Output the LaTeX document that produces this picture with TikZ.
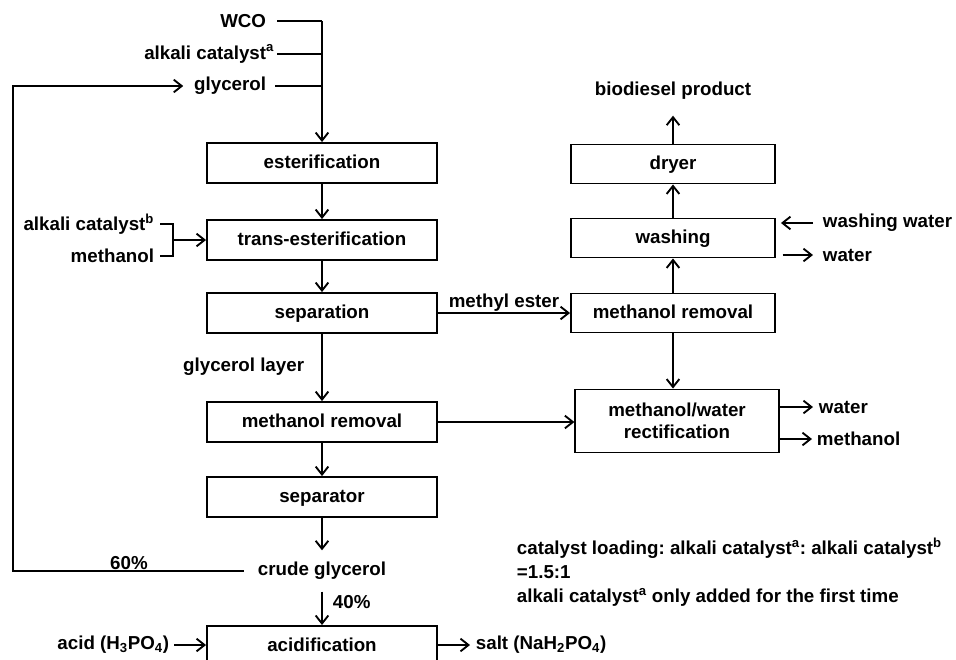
\documentclass[tikz,border=0pt]{standalone}
\usepackage{fontspec}
\setmainfont{Liberation Sans}
\usepackage{tikz}
\usetikzlibrary{arrows.meta}
\frenchspacing

\begin{document}
\begin{tikzpicture}[x=0.3mm, y=-0.3mm, line width=1.6pt,
		every node/.style={inner sep=0pt, font=\fontsize{16}{19}\selectfont\bfseries},
		unit/.style={draw, line width=1.6pt, minimum width=69mm, minimum height=12mm, text height=13pt, text depth=3pt},
		unitR/.style={draw, line width=1.6pt, minimum width=61.2mm, minimum height=11.7mm, text height=13pt, text depth=3pt},
		flow/.style={-{Straight Barb[length=2.4mm,width=3.8mm]}}]
		
		\useasboundingbox (0,0) rectangle (956,659);
		
		% feeds on top
		\node [anchor=east] (wco) at (267,21) {WCO};
		\node [anchor=east] (cata) at (275,54) {alkali catalyst\textsuperscript{a}};
		\node [anchor=east] (glyc) at (267,86) {glycerol};
		\coordinate (feed) at (322,21);
		
		% left column
		\node [unit] (ester) at (322,163) {esterification};
		\node [unit] (trans) at (322,240) {trans-esterification};
		\node [unit] (sep) at (322,313) {separation};
		\node [unit] (mrem) at (322,422) {methanol removal};
		\node [unit] (sepr) at (322,497) {separator};
		\node [inner xsep=3.9mm, inner ysep=3.3mm] (crude) at (322,571) {crude glycerol};
		\node [unit, anchor=north] (acidf) at (322,625) {acidification};
		
		% right column
		\node (bio) at (673,91) {biodiesel product};
		\node [unitR] (dryer) at (673,164) {dryer};
		\node [unitR] (wash) at (673,238) {washing};
		\node [unitR] (mremR) at (673,313) {methanol removal};
		\node [draw, line width=1.6pt, minimum width=61mm, minimum height=18.9mm, align=center] (rect) at (677,421) {methanol/water\\rectification};
		
		% feed lines
		\draw ([xshift=3mm]wco.east) -- (feed);
		\draw ([xshift=0.6mm]cata.east) -- (cata.east -| feed);
		\draw ([xshift=2.4mm]glyc.east) -- (glyc.east -| feed);
		\draw [flow] (feed) -- (ester.north);
		
		% catalyst b and methanol
		\node [anchor=east] (catb) at (155,224) {alkali catalyst\textsuperscript{b}};
		\node [anchor=east] (meoh) at (155,256) {methanol};
		\coordinate (join) at (173,240);
		\draw ([xshift=1.5mm]catb.east) -- (catb.east -| join) -- (meoh.east -| join) -- ([xshift=1.5mm]meoh.east);
		\draw [flow] (join) -- (trans.west);
		
		% main line
		\draw [flow] (ester) -- (trans);
		\draw [flow] (trans) -- (sep);
		\draw [flow] (sep) -- (mrem);
		\node [anchor=east] (glayer) at (305,367) {glycerol layer};
		\draw [flow] (mrem) -- (sepr);
		\draw [flow] (sepr) -- (crude);
		\draw [flow] (crude) -- (acidf);
		\node [anchor=west] (forty) at (332,602) {40\%};
		
		% recycle 60%
		\coordinate (loopL) at (13,571);
		\draw [flow] (crude.west) -- (loopL) -- (loopL |- glyc.west) -- ([xshift=-3mm]glyc.west);
		\node [anchor=base] (sixty) at (129,569) {60\%};
		
		% acidification
		\node [anchor=east] (acid) at (170,645) {acid (H\textsubscript{3}PO\textsubscript{4})};
		\node [anchor=west] (salt) at (475,645) {salt (NaH\textsubscript{2}PO\textsubscript{4})};
		\draw [flow] ([xshift=1.2mm]acid.east) -- (acid.east -| acidf.west);
		\draw [flow] (acidf.east |- salt.west) -- ([xshift=-1.5mm]salt.west);
		
		% ester line
		\draw [flow] (sep.east) -- (mremR.west) node (mester) [midway, above=0.3mm] {methyl ester};
		\draw [flow] (mremR) -- (wash);
		\draw [flow] (wash) -- (dryer);
		\draw [flow] (dryer) -- ([yshift=-4.5mm]bio.south);
		\draw [flow] (mremR.south) -- (mremR.south |- rect.north);
		\draw [flow] (mrem.east) -- (mrem.east -| rect.west);
		
		% washing water
		\node [anchor=west] (wwater) at (822,223) {washing water};
		\node [anchor=west] (wout) at (822,255) {water};
		\draw [flow] ([xshift=-2.7mm]wwater.west) -- ([xshift=1.5mm]wash.east |- wwater.west);
		\draw [flow] ([xshift=2mm]wash.east |- wout.west) -- ([xshift=-2.7mm]wout.west);
		
		% rectification outlets
		\node [anchor=west] (rwater) at (818,407) {water};
		\node [anchor=west] (rmeoh) at (816,439) {methanol};
		\draw [flow] (rect.east |- rwater.west) -- ([xshift=-1.5mm]rwater.west);
		\draw [flow] (rect.east |- rmeoh.west) -- ([xshift=-1.2mm]rmeoh.west);
		
		% note
		\node [anchor=north west, align=left, font=\fontsize{16}{20.5}\selectfont\bfseries] (note) at (516,537) {catalyst loading: alkali catalyst\textsuperscript{a}: alkali catalyst\textsuperscript{b}\\=1.5:1\\alkali catalyst\textsuperscript{a} only added for the first time};
		
\end{tikzpicture}
\end{document}
